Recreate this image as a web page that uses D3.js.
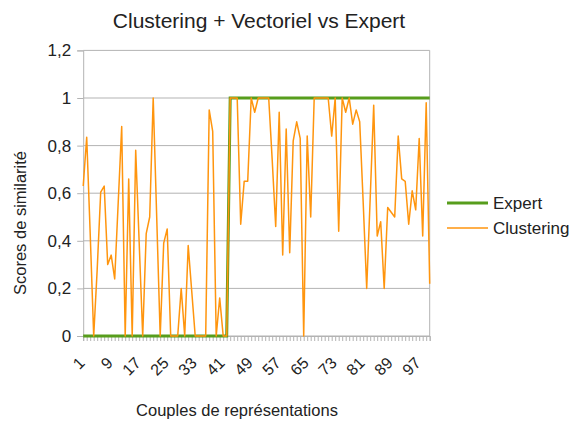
<!DOCTYPE html>
<html><head><meta charset="utf-8">
<script src="https://cdn.jsdelivr.net/npm/d3@7"></script>
<style>body{margin:0;background:#fff}svg{display:block;font-family:"Liberation Sans",Arial,sans-serif}</style>
</head><body><svg id="c" width="572" height="421"></svg>
<script>
const title = "Clustering + Vectoriel vs Expert";
const xTitle = "Couples de représentations";
const yTitle = "Scores de similarité";
const categories = d3.range(1, 101);
const xTickLabels = [1, 9, 17, 25, 33, 41, 49, 57, 65, 73, 81, 89, 97];
const yTicks = [0, 0.2, 0.4, 0.6, 0.8, 1, 1.2];
const expert = categories.map(c => c <= 42 ? 0 : 1);
const clustering = [
  0.63, 0.835, 0.43, 0, 0.28, 0.605, 0.63, 0.30, 0.34, 0.24,
  0.56, 0.88, 0, 0.66, 0, 0.78, 0.39, 0, 0.43, 0.50,
  1.0, 0.5, 0, 0.39, 0.45, 0, 0, 0, 0.2, 0,
  0.38, 0.19, 0, 0, 0, 0, 0.95, 0.86, 0, 0.16,
  0, 0, 1, 1, 1, 0.47, 0.65, 0.65, 1, 0.94,
  1, 1, 1, 1, 0.74, 0.46, 0.94, 0.34, 0.87, 0.35,
  0.82, 0.90, 0.83, 0, 0.84, 0.50, 1, 1, 1, 1,
  1, 0.84, 1, 0.44, 1, 0.94, 1, 0.89, 0.95, 0.9,
  0.56, 0.2, 0.58, 0.97, 0.42, 0.48, 0.2, 0.54, 0.52, 0.5,
  0.84, 0.66, 0.65, 0.47, 0.61, 0.53, 0.83, 0.42, 0.98, 0.22
];
const seriesNames = ["Expert", "Clustering"];
const seriesColors = ["#579d1c", "#ff950e"];

const svg = d3.select("#c");
const pLeft = 83.2, pRight = 429.7, pTop = 50.4, pBottom = 336;
const x = d3.scalePoint().domain(categories).range([pLeft, pRight]).padding(0);
const y = d3.scaleLinear().domain([0, 1.2]).range([pBottom, pTop]);
const grey = "#b3b3b3";

svg.append("g").selectAll("line").data(yTicks).join("line")
  .attr("x1", pLeft).attr("x2", pRight)
  .attr("y1", d => y(d)).attr("y2", d => y(d))
  .attr("stroke", grey).attr("stroke-width", 1);
svg.append("line").attr("x1", pRight).attr("x2", pRight).attr("y1", pTop).attr("y2", pBottom)
  .attr("stroke", grey);

const yAxis = d3.axisLeft(y).tickValues(yTicks).tickSize(6).tickPadding(6)
  .tickFormat(d => d3.format("~g")(d).replace(".", ","));
const gy = svg.append("g").attr("transform", `translate(${pLeft},0)`).call(yAxis);
gy.select(".domain").attr("stroke", grey);
gy.selectAll(".tick line").attr("stroke", grey);
gy.selectAll("text").attr("fill", "#222").style("font-size", "17px").style("font-family", "Liberation Sans, Arial, sans-serif");

const xAxis = d3.axisBottom(x).tickSize(5).tickFormat(d => xTickLabels.includes(d) ? d : "");
const gx = svg.append("g").attr("transform", `translate(0,${pBottom})`).call(xAxis);
gx.select(".domain").attr("stroke", grey);
gx.selectAll(".tick line").attr("stroke", grey);
gx.selectAll("text").attr("fill", "#222").style("font-size", "16px")
  .style("font-family", "Liberation Sans, Arial, sans-serif")
  .attr("text-anchor", "end").attr("dy", null).attr("y", 0)
  .attr("transform", "translate(2,28) rotate(-45)");

const line = d3.line().x((d, i) => x(categories[i])).y(d => y(d));
svg.append("path").datum(expert).attr("d", line).attr("fill", "none")
  .attr("stroke", seriesColors[0]).attr("stroke-width", 3);
svg.append("path").datum(clustering).attr("d", line).attr("fill", "none")
  .attr("stroke", seriesColors[1]).attr("stroke-width", 1.5).attr("stroke-linejoin", "round");

svg.append("text").attr("x", 259).attr("y", 28).attr("text-anchor", "middle")
  .attr("fill", "#222").style("font-size", "21px").text(title);
svg.append("text").attr("x", 237).attr("y", 416).attr("text-anchor", "middle")
  .attr("fill", "#222").style("font-size", "16.5px").text(xTitle);
svg.append("text").attr("transform", "translate(26,223) rotate(-90)").attr("text-anchor", "middle")
  .attr("fill", "#222").style("font-size", "16.5px").text(yTitle);

const lg = svg.append("g");
seriesNames.forEach((n, i) => {
  const ly = 203 + i * 25;
  lg.append("line").attr("x1", 447).attr("x2", 488).attr("y1", ly).attr("y2", ly)
    .attr("stroke", seriesColors[i]).attr("stroke-width", i === 0 ? 3 : 1.5);
  lg.append("text").attr("x", 493).attr("y", ly + 6).attr("fill", "#222")
    .style("font-size", "17px").text(n);
});
</script></body></html>
